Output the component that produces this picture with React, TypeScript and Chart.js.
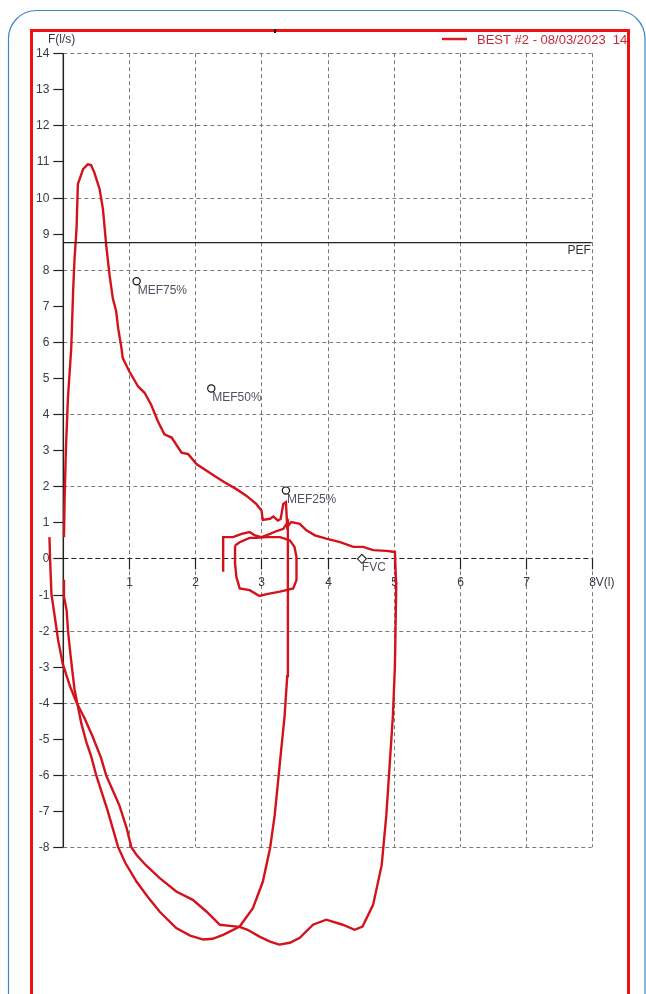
import React, { useEffect, useRef } from "react";
import { Chart, registerables } from "chart.js";

Chart.register(...registerables);

// ---- axis ticks ----
const yTickValues = [14, 13, 12, 11, 10, 9, 8, 7, 6, 5, 4, 3, 2, 1, 0, -1, -2, -3, -4, -5, -6, -7, -8];
const yGridValues = [14, 12, 10, 8, 6, 4, 2, -2, -4, -6, -8];
const xTickValues = [1, 2, 3, 4, 5, 6, 7, 8];
const xAxisTitle = "V(l)";
const yAxisTitle = "F(l/s)";
const legendText = "BEST #2 - 08/03/2023  14:32";

// ---- main manoeuvre (expiration + inspiration) ----
const mainV = [0.01, 0.02, 0.04, 0.07, 0.12, 0.15, 0.17, 0.2, 0.22, 0.3, 0.37, 0.42, 0.47, 0.55, 0.6, 0.65, 0.7, 0.75, 0.8, 0.83, 0.88, 0.9, 1.0, 1.13, 1.23, 1.33, 1.43, 1.53, 1.64, 1.79, 1.89, 2.02, 2.17, 2.32, 2.44, 2.62, 2.77, 2.92, 3.0, 3.02, 3.13, 3.18, 3.25, 3.29, 3.33, 3.37, 3.39, 3.45, 3.58, 3.68, 3.81, 3.98, 4.19, 4.39, 4.54, 4.69, 4.89, 5.02,
  5.04, 5.03, 5.02, 4.99, 4.94, 4.89, 4.82, 4.69, 4.53, 4.41, 4.23, 3.98, 3.78, 3.58, 3.43, 3.27, 3.13, 2.97, 2.79, 2.67, 2.52, 2.37, 2.17, 1.96, 1.71, 1.46, 1.25, 1.11, 1.03, 0.96, 0.85, 0.75, 0.65, 0.57, 0.44, 0.32, 0.2, 0.1, -0.01, -0.08, -0.13, -0.18, -0.2, -0.21];
const mainF = [0.59, 1.69, 3.07, 4.45, 5.83, 7.48, 8.31, 9.13, 10.37, 10.79, 10.92, 10.9, 10.69, 10.23, 9.68, 8.67, 7.85, 7.2, 6.85, 6.38, 5.83, 5.55, 5.18, 4.77, 4.59, 4.26, 3.81, 3.44, 3.35, 2.93, 2.89, 2.61, 2.43, 2.25, 2.11, 1.92, 1.74, 1.51, 1.33, 1.07, 1.1, 1.16, 1.05, 1.09, 1.51, 1.56, 0.87, 1.01, 0.96, 0.78, 0.64, 0.55, 0.45, 0.32, 0.32, 0.23, 0.21, 0.18,
  -0.79, -1.89, -2.99, -4.36, -5.74, -7.12, -8.5, -9.6, -10.2, -10.29, -10.15, -10.01, -10.15, -10.51, -10.65, -10.7, -10.62, -10.48, -10.29, -10.21, -10.18, -10.15, -9.79, -9.46, -9.23, -8.86, -8.5, -8.22, -8.0, -7.48, -6.85, -6.43, -6.02, -5.52, -4.92, -4.42, -3.99, -3.54, -2.91, -2.25, -1.61, -0.98, -0.04, 0.59];

// ---- second inspiration trace ----
const secondV = [0.01, 0.01, 0.05, 0.07, 0.1, 0.14, 0.17, 0.22, 0.27, 0.35, 0.42, 0.5, 0.67, 0.83, 0.94, 1.11, 1.28, 1.46, 1.71, 1.92, 2.12, 2.26, 2.42, 2.67, 2.87, 3.02, 3.13, 3.2, 3.25, 3.3, 3.35, 3.39, 3.4, 3.4, 3.4, 3.4, 3.33, 3.23, 3.13, 3.0, 2.9, 2.82, 2.7, 2.57, 2.42, 2.42];
const secondF = [-0.59, -1.06, -1.43, -1.98, -2.53, -3.17, -3.63, -4.09, -4.55, -5.1, -5.47, -6.02, -6.98, -8.0, -8.44, -8.96, -9.38, -9.79, -10.24, -10.45, -10.56, -10.54, -10.43, -10.2, -9.69, -8.96, -8.03, -7.12, -6.2, -5.28, -4.37, -3.26, -2.44, -1.06, 0.04, 1.01, 0.82, 0.76, 0.68, 0.59, 0.64, 0.73, 0.68, 0.59, 0.59, -0.37];

// ---- small tidal loop ----
const loopV = [2.6, 2.6, 2.62, 2.67, 2.82, 2.97, 3.08, 3.28, 3.48, 3.53, 3.53, 3.5, 3.43, 3.35, 3.28, 3.08, 2.92, 2.82, 2.67, 2.6];
const loopF = [0.36, -0.14, -0.51, -0.83, -0.88, -1.04, -0.99, -0.92, -0.83, -0.6, 0.04, 0.32, 0.5, 0.55, 0.59, 0.59, 0.57, 0.57, 0.45, 0.36];

// ---- markers ----
const markerNames = ["MEF75%", "MEF50%", "MEF25%"];
const markerV = [1.11, 2.24, 3.37];
const markerF = [7.68, 4.71, 1.88];
const fvcName = "FVC";
const fvcV = [4.52];
const fvcF = [-0.01];
const pefName = "PEF";
const pefValue = 8.75;

const W = 646;
const H = 994;
const FONT = '"Liberation Sans", Arial, sans-serif';
const CURVE = "#d4121c";

const toPts = (v: number[], f: number[]) => v.map((x, i) => ({ x, y: f[i] }));

export default function App() {
  const ref = useRef<HTMLCanvasElement | null>(null);

  useEffect(() => {
    if (!ref.current) return;

    const framePlugin = {
      id: "framePlugin",
      beforeDraw(chart: any) {
        const ctx = chart.ctx;
        ctx.save();
        ctx.fillStyle = "#ffffff";
        ctx.fillRect(0, 0, W, H);
        // blue rounded outer box
        const l = 8.5, t = 10.5, r = 645, b = 1200, rad = 28;
        ctx.beginPath();
        ctx.moveTo(l + rad, t);
        ctx.lineTo(r - rad, t);
        ctx.arcTo(r, t, r, t + rad, rad);
        ctx.lineTo(r, b);
        ctx.lineTo(l, b);
        ctx.lineTo(l, t + rad);
        ctx.arcTo(l, t, l + rad, t, rad);
        ctx.closePath();
        ctx.strokeStyle = "#3d86c8";
        ctx.lineWidth = 1.2;
        ctx.stroke();
        ctx.restore();
      },
      beforeDatasetsDraw(chart: any) {
        const ctx = chart.ctx;
        const xs = chart.scales.x;
        const ys = chart.scales.y;
        const x0 = xs.getPixelForValue(0);
        const x8 = xs.getPixelForValue(xTickValues[xTickValues.length - 1]);
        const yTop = ys.getPixelForValue(yTickValues[0]);
        const yBot = ys.getPixelForValue(yTickValues[yTickValues.length - 1]);
        const y0 = ys.getPixelForValue(0);
        ctx.save();
        // dashed grid
        ctx.setLineDash([4, 3]);
        ctx.strokeStyle = "#7a7a7a";
        ctx.lineWidth = 1;
        yGridValues.forEach((v) => {
          const py = Math.round(ys.getPixelForValue(v)) + 0.5;
          ctx.beginPath();
          ctx.moveTo(x0, py);
          ctx.lineTo(x8, py);
          ctx.stroke();
        });
        xTickValues.forEach((v) => {
          const px = Math.round(xs.getPixelForValue(v)) + 0.5;
          ctx.beginPath();
          ctx.moveTo(px, yTop);
          ctx.lineTo(px, yBot);
          ctx.stroke();
        });
        // x axis (dashed dark)
        ctx.strokeStyle = "#222";
        ctx.setLineDash([5, 3]);
        ctx.beginPath();
        ctx.moveTo(x0, Math.round(y0) + 0.5);
        ctx.lineTo(x8, Math.round(y0) + 0.5);
        ctx.stroke();
        ctx.setLineDash([]);
        // y axis solid
        ctx.lineWidth = 1.5;
        ctx.beginPath();
        ctx.moveTo(x0, yTop);
        ctx.lineTo(x0, yBot);
        ctx.stroke();
        // y ticks and labels
        ctx.lineWidth = 1.2;
        ctx.fillStyle = "#383848";
        ctx.font = "12px " + FONT;
        ctx.textAlign = "right";
        ctx.textBaseline = "middle";
        yTickValues.forEach((v) => {
          const py = Math.round(ys.getPixelForValue(v)) + 0.5;
          ctx.beginPath();
          ctx.moveTo(x0 - 10, py);
          ctx.lineTo(x0, py);
          ctx.stroke();
          ctx.fillText(String(v), x0 - 14, py);
        });
        // x ticks and labels
        ctx.textAlign = "center";
        xTickValues.forEach((v) => {
          const px = Math.round(xs.getPixelForValue(v)) + 0.5;
          ctx.beginPath();
          ctx.moveTo(px, y0);
          ctx.lineTo(px, y0 + 11);
          ctx.stroke();
          ctx.fillText(String(v), px, y0 + 24);
        });
        ctx.textAlign = "left";
        ctx.fillText(xAxisTitle, x8 + 4, y0 + 24);
        ctx.fillText(yAxisTitle, 48, 40);
        ctx.restore();
      },
      afterDatasetsDraw(chart: any) {
        const ctx = chart.ctx;
        const xs = chart.scales.x;
        const ys = chart.scales.y;
        ctx.save();
        ctx.font = "12px " + FONT;
        ctx.fillStyle = "#4e5260";
        ctx.textAlign = "left";
        ctx.textBaseline = "middle";
        markerNames.forEach((n, i) => {
          const px = xs.getPixelForValue(markerV[i]);
          const py = ys.getPixelForValue(markerF[i]);
          ctx.fillText(n, px + 1, py + 9);
        });
        const fx = xs.getPixelForValue(fvcV[0]);
        const fy = ys.getPixelForValue(fvcF[0]);
        ctx.fillText(fvcName, fx, fy + 9);
        ctx.fillStyle = "#333";
        ctx.textAlign = "right";
        ctx.fillText(pefName, xs.getPixelForValue(8) - 1, ys.getPixelForValue(pefValue) + 8);
        ctx.restore();
      },
      afterDraw(chart: any) {
        const ctx = chart.ctx;
        ctx.save();
        // legend (clipped inside red frame)
        ctx.beginPath();
        ctx.rect(33, 32, 594, 40);
        ctx.clip();
        ctx.strokeStyle = "#e01a22";
        ctx.lineWidth = 2.5;
        ctx.beginPath();
        ctx.moveTo(442, 39);
        ctx.lineTo(467, 39);
        ctx.stroke();
        ctx.font = "13px " + FONT;
        ctx.fillStyle = "#c42a36";
        ctx.textAlign = "left";
        ctx.textBaseline = "middle";
        ctx.fillText(legendText, 477, 40);
        ctx.restore();
        // red frame
        ctx.save();
        ctx.strokeStyle = "#f01010";
        ctx.lineWidth = 3;
        ctx.strokeRect(31.5, 30.5, 597, 1100);
        ctx.fillStyle = "#111";
        ctx.fillRect(274, 29, 2, 4);
        ctx.restore();
      },
    };

    const lineDs = (v: number[], f: number[]) => ({
      data: toPts(v, f),
      showLine: true,
      borderColor: CURVE,
      borderWidth: 2.4,
      pointRadius: 0,
      tension: 0,
      fill: false,
    });

    const chart = new Chart(ref.current, {
      type: "scatter",
      data: {
        datasets: [
          {
            data: [{ x: 0, y: pefValue }, { x: 8, y: pefValue }],
            showLine: true,
            borderColor: "#222",
            borderWidth: 1.2,
            pointRadius: 0,
          },
          lineDs(mainV, mainF),
          lineDs(secondV, secondF),
          lineDs(loopV, loopF),
          {
            data: toPts(markerV, markerF),
            showLine: false,
            pointStyle: "circle",
            pointRadius: 3.6,
            borderColor: "#111",
            backgroundColor: "#ffffff",
            borderWidth: 1.2,
          },
          {
            data: toPts(fvcV, fvcF),
            showLine: false,
            pointStyle: "rectRot",
            pointRadius: 4.5,
            borderColor: "#222",
            backgroundColor: "#ffffff",
            borderWidth: 1.1,
          },
        ] as any,
      },
      options: {
        responsive: false,
        animation: false,
        events: [],
        layout: { padding: { left: 33, right: W - 627, top: 32, bottom: 0 } },
        plugins: { legend: { display: false }, tooltip: { enabled: false } },
        scales: {
          x: { type: "linear", display: false, min: -0.459, max: 8.534 },
          y: { type: "linear", display: false, min: -11.914, max: 14.587 },
        },
      } as any,
      plugins: [framePlugin as any],
    });
    return () => chart.destroy();
  }, []);

  return (
    <div style={{ position: "absolute", left: 0, top: 0, width: W, height: H, overflow: "hidden", background: "#fff" }}>
      <canvas ref={ref} width={W} height={H} style={{ display: "block", width: W, height: H }} />
    </div>
  );
}
